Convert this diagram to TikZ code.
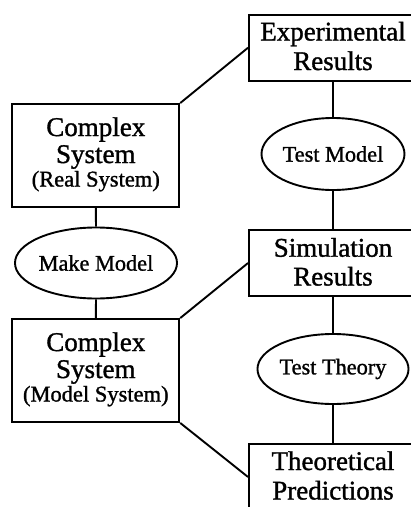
\documentclass[tikz,border=0pt]{standalone}
\usepackage{fontspec}
\setmainfont{Liberation Serif}[FakeBold=1.2]
\usetikzlibrary{shapes.geometric}
\newcommand\bigfnt{\fontsize{27}{29}\selectfont}
\newcommand\parenfnt{\fontsize{22.5}{25}\selectfont}
\newcommand\ovalfnt{\fontsize{22.3}{26}\selectfont}
\begin{document}
\begin{tikzpicture}[x=1pt,y=-1pt,line width=1.9pt,
  box/.style={draw,rectangle,minimum width=167pt,inner sep=0pt},
  big/.style={anchor=base,inner sep=0pt,font=\bigfnt},
  paren/.style={anchor=base,inner sep=0pt,font=\parenfnt},
  oval/.style={draw,ellipse,inner sep=0pt,minimum width=143pt,font=\ovalfnt}]
\useasboundingbox (0,0) rectangle (411,507);
\clip (0,0) rectangle (411,507);
% left column
\node[box,minimum height=103pt] (real) at (95.8,155.5) {};
\node[big] (real1) at (95.8,136) {Complex};
\node[big] (real2) at (95.8,163) {System};
\node[paren] (real3) at (95.8,186.5) {(Real System)};
\node[oval,minimum height=71pt] (make) at (96,263) {Make Model};
\node[box,minimum height=103pt] (model) at (95.8,370.5) {};
\node[big] (model1) at (95.8,351) {Complex};
\node[big] (model2) at (95.8,378) {System};
\node[paren] (model3) at (95.8,401.5) {(Model System)};
% right column
\node[box,minimum width=168pt,minimum height=66pt] (exp) at (333,47.7) {};
\node[big] (exp1) at (333,40.5) {Experimental};
\node[big] (exp2) at (333,70) {Results};
\node[oval,minimum height=72pt] (tmodel) at (333,154) {Test Model};
\node[box,minimum width=168pt,minimum height=66pt] (sim) at (333,263) {};
\node[big] (sim1) at (333,256.7) {Simulation};
\node[big] (sim2) at (333,285.5) {Results};
\node[oval,minimum height=70pt] (ttheory) at (333,369) {Test Theory};
\node[box,minimum width=168pt,minimum height=66pt] (theo) at (333,477) {};
\node[big] (theo1) at (333,470) {Theoretical};
\node[big] (theo2) at (333,499.5) {Predictions};
% connectors
\draw (real.south) -- (make.north);
\draw (make.south) -- (model.north);
\draw (real.north east) -- (exp.west);
\draw (model.north east) -- (sim.west);
\draw (model.south east) -- (theo.west);
\draw (exp.south) -- (tmodel.north);
\draw (tmodel.south) -- (sim.north);
\draw (sim.south) -- (ttheory.north);
\draw (ttheory.south) -- (theo.north);
\end{tikzpicture}
\end{document}
